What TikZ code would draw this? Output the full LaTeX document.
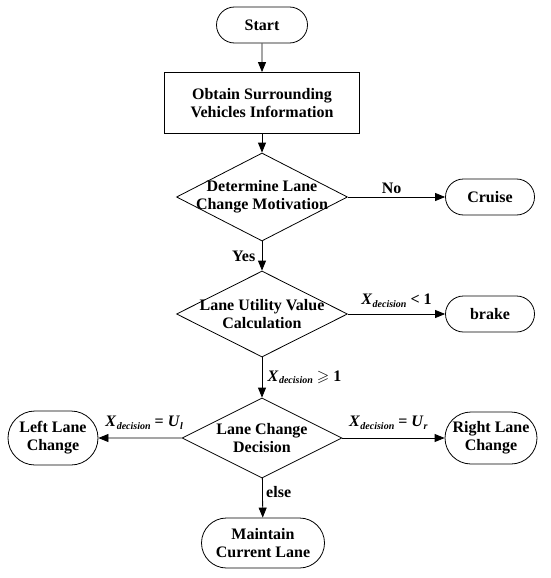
\documentclass[tikz,border=0pt]{standalone}
\usepackage{amssymb}
\usepackage{fontspec}
\setmainfont{Liberation Serif}
\usetikzlibrary{shapes.geometric,shapes.misc,arrows.meta}
\newcommand{\subsm}[1]{\raisebox{-2.5pt}{\fontsize{10}{11}\selectfont\textit{#1}}}
\newcommand{\xdec}{\textit{X}\kern0.3pt\subsm{decision}}
\begin{document}
\begin{tikzpicture}[x=1pt,y=-1pt,
  every node/.style={font=\bfseries\fontsize{16}{18}\selectfont, align=center},
  term/.style={draw, rounded rectangle, thick, inner sep=0pt},
  procbox/.style={draw, thick, minimum width=195pt, minimum height=61pt},
  decision/.style={draw, thick, diamond, inner sep=0pt},
  arr/.style={draw, thick, -{Triangle[length=10pt,width=8pt]}},
  lbl/.style={font=\bfseries\fontsize{16}{18}\selectfont}
]
\useasboundingbox (0,0) rectangle (550,578);
\node[term, minimum width=91pt, minimum height=36pt] (start) at (262,25) {Start};
\node[procbox] (obtain) at (262,103) {Obtain Surrounding\\Vehicles Information};
\node[decision, minimum width=171pt, minimum height=88pt] (d1) at (262,197) {};
\node at (d1.center) {Determine Lane\\Change Motivation};
\node[term, minimum width=89pt, minimum height=36pt] (cruise) at (490,197) {Cruise};
\node[decision, minimum width=171pt, minimum height=86pt] (d2) at (262,314) {};
\node at (d2.center) {Lane Utility Value\\Calculation};
\node[term, minimum width=89pt, minimum height=36pt] (brake) at (490,314) {brake};
\node[decision, minimum width=160pt, minimum height=80pt] (d3) at (262,438) {};
\node at (d3.center) {Lane Change\\Decision};
\node[term, minimum width=90pt, minimum height=54pt] (left) at (53,438) {Left Lane\\Change};
\node[term, minimum width=92pt, minimum height=52pt] (right) at (491,438) {Right Lane\\Change};
\node[term, minimum width=123pt, minimum height=50pt] (keep) at (263,543) {Maintain\\Current Lane};
\draw[arr] (start) -- (obtain);
\draw[arr] (obtain) -- (d1);
\draw[arr] (d1) -- node[lbl, above, pos=0.45] {No} (cruise);
\draw[arr] (d1) -- node[lbl, left, pos=0.5, xshift=-3pt] {Yes} (d2);
\draw[arr] (d2) -- node[lbl, above, pos=0.5, yshift=3pt] {\xdec{} < 1} (brake);
\draw[arr] (d2) -- node[lbl, right, pos=0.5, xshift=2pt] {\xdec{} $\geqslant$ 1} (d3);
\draw[arr] (d3) -- node[lbl, above, pos=0.45, yshift=5pt] {\xdec{} = \textit{U}\subsm{l}} (left);
\draw[arr] (d3) -- node[lbl, above, pos=0.45, yshift=5pt] {\xdec{} = \textit{U}\subsm{r}} (right);
\draw[arr] (d3) -- node[lbl, right, pos=0.35] {else} (keep);
\end{tikzpicture}
\end{document}
